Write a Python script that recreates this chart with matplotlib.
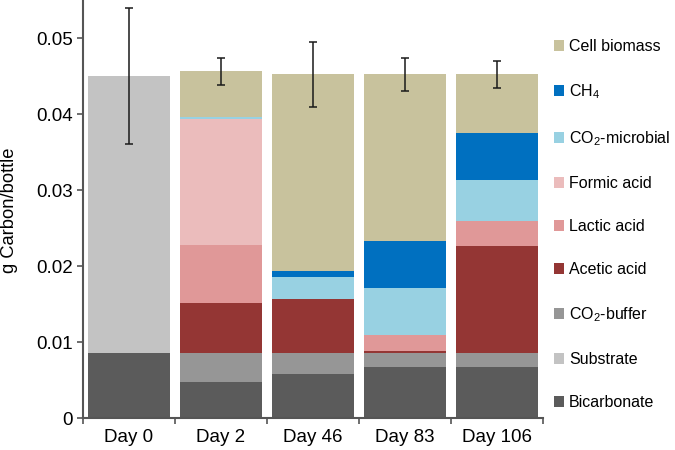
import numpy as np
import matplotlib
matplotlib.use('Agg')
import matplotlib.pyplot as plt
from matplotlib.patches import Patch

plt.rcParams['font.family'] = ['Liberation Sans', 'DejaVu Sans']
plt.rcParams['mathtext.default'] = 'regular'

days = ['Day 0', 'Day 2', 'Day 46', 'Day 83', 'Day 106']

# stacked components, bottom to top
bicarbonate = [0.0085, 0.0048, 0.0058, 0.0067, 0.0067]
substrate = [0.0365, 0.0, 0.0, 0.0, 0.0]
co2_buffer = [0.0, 0.0037, 0.0027, 0.0019, 0.0019]
acetic = [0.0, 0.0067, 0.0071, 0.0002, 0.0140]
lactic = [0.0, 0.0076, 0.0, 0.0021, 0.0033]
formic = [0.0, 0.0165, 0.0, 0.0, 0.0]
co2_microbial = [0.0, 0.0003, 0.0029, 0.0062, 0.0054]
ch4 = [0.0, 0.0, 0.0009, 0.0062, 0.0062]
biomass = [0.0, 0.0060, 0.0258, 0.0219, 0.0077]

errors = [0.0089, 0.0018, 0.0043, 0.0022, 0.0018]

layers = [
    ('Bicarbonate', bicarbonate, '#5b5b5b'),
    ('Substrate', substrate, '#c3c3c3'),
    ('CO$_2$-buffer', co2_buffer, '#969696'),
    ('Acetic acid', acetic, '#943634'),
    ('Lactic acid', lactic, '#e09898'),
    ('Formic acid', formic, '#ebbcbc'),
    ('CO$_2$-microbial', co2_microbial, '#98d1e2'),
    ('CH$_4$', ch4, '#0070c0'),
    ('Cell biomass', biomass, '#c8c29d'),
]

fig = plt.figure(figsize=(6.75, 4.5), dpi=100)
ax = fig.add_axes([0.123, 0.071, 0.681, 0.929])

x = np.arange(len(days))
bottom = np.zeros(len(days))
for name, vals, col in layers:
    vals = np.array(vals)
    ax.bar(x, vals, width=0.89, bottom=bottom, color=col, edgecolor='none')
    bottom += vals

ax.errorbar(x, bottom, yerr=errors, fmt='none', ecolor='#1a1a1a',
            elinewidth=1.1, capsize=3.2, capthick=1.1)

ax.set_xlim(-0.5, 4.5)
ax.set_ylim(0, 0.055)
ax.set_yticks([0, 0.01, 0.02, 0.03, 0.04, 0.05])
ax.set_yticklabels(['0', '0.01', '0.02', '0.03', '0.04', '0.05'], fontsize=13.5)
ax.set_xticks(np.arange(-0.5, 5, 1))
ax.set_xticklabels([])
ax.set_xticks(x, minor=True)
ax.set_xticklabels(days, minor=True, fontsize=13.5)
ax.tick_params(axis='x', which='minor', length=0, pad=8)
ax.tick_params(axis='both', which='major', length=4, width=1.2, color='#555555')
ax.set_ylabel('g Carbon/bottle', fontsize=13.2)
ax.yaxis.set_label_coords(-0.142, 0.497)

for s in ['top', 'right']:
    ax.spines[s].set_visible(False)
for s in ['left', 'bottom']:
    ax.spines[s].set_color('#555555')
    ax.spines[s].set_linewidth(1.5)

handles = [Patch(facecolor=col, edgecolor='none', label=name) for name, vals, col in layers[::-1]]
ax.legend(handles=handles, loc='upper left', bbox_to_anchor=(1.01, 0.922),
          frameon=False, fontsize=11.5, handlelength=0.66, handleheight=0.66,
          handletextpad=0.3, labelspacing=1.76, borderaxespad=0)

fig.savefig('out.png', dpi=100)
